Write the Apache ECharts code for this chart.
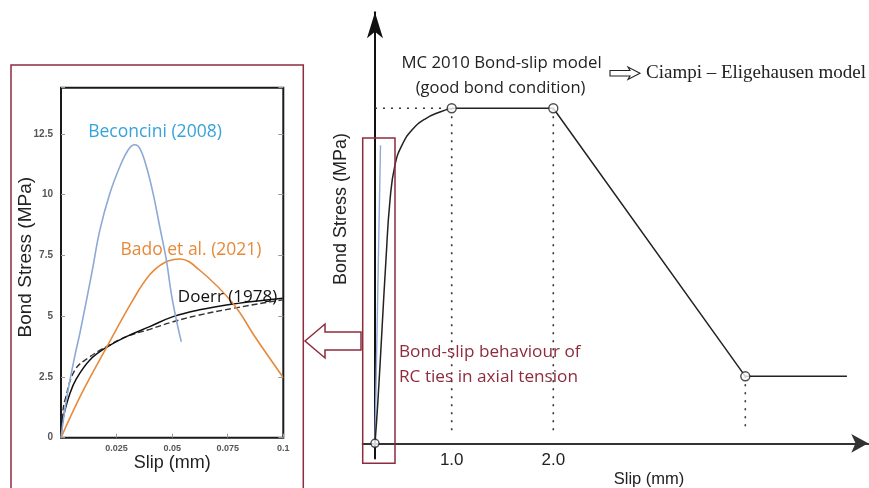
<!DOCTYPE html>
<html>
<head>
<meta charset="utf-8">
<script src="https://cdn.jsdelivr.net/npm/echarts@6/dist/echarts.min.js"></script>
<style>html,body{margin:0;padding:0;background:#fff;}#c{width:869px;height:488px;}</style>
</head>
<body>
<div id="c"></div>
<script>
// ---- Inset chart (bond-slip of RC ties), slip in mm, stress in MPa ----
const insetYTicks = [0, 2.5, 5, 7.5, 10, 12.5];
const insetXTicks = [0.025, 0.05, 0.075, 0.1];
const beconcini = [[0,0],[0.0025,1.6],[0.0063,3.4],[0.0085,4.3],[0.0138,6.75],[0.0175,8.55],[0.022,10.06],[0.0265,11.16],[0.0302,11.84],[0.0332,12.05],[0.0354,11.91],[0.0384,11.16],[0.0414,10.06],[0.0444,8.69],[0.0474,7.31],[0.0496,5.94],[0.0519,4.84],[0.0541,3.95]];
const bado = [[0,0],[0.0093,1.82],[0.0205,3.72],[0.0324,5.67],[0.0399,6.70],[0.0465,7.2],[0.0534,7.35],[0.0623,6.90],[0.0773,5.53],[0.0877,4.09],[0.0997,2.51]];
const doerrSolid = [[0,0],[0.00045,0.45],[0.00105,0.86],[0.004,1.82],[0.007,2.44],[0.013,3.2],[0.0205,3.72],[0.0294,4.16],[0.0399,4.57],[0.0504,4.98],[0.0623,5.26],[0.0773,5.5],[0.0922,5.67],[0.0997,5.74]];
const doerrDashed = [[0,0],[0.00075,1.0],[0.0018,1.55],[0.0063,2.79],[0.013,3.33],[0.0205,3.75],[0.0294,4.16],[0.0399,4.46],[0.0504,4.77],[0.0623,5.05],[0.0773,5.32],[0.0922,5.56],[0.0997,5.67]];

// ---- MC 2010 schematic (values in model units, plateau = 10) ----
const mcTickLabels = [1, 2];
const mcAscending = [[0,0],[0.039,1.29],[0.091,3.38],[0.143,5.47],[0.196,7.26],[0.261,8.31],[0.352,8.90],[0.482,9.35],[0.652,9.68],[0.848,9.89],[1,10]];
const mcModel = [[1,10],[2,10],[3.89,2],[4.89,2]];
const mcNodes = [[1,10],[2,10],[3.89,2]];
const mcOrigin = [[0,0]];
const mcGuideH = [[0,10],[1,10]];
const mcGuideV1 = [[1,10],[1,0.34]];
const mcGuideV2 = [[2,10],[2,0.34]];
const mcGuideV3 = [[3.89,2],[3.89,0.34]];
const mcInsetTrace = [[0,0],[0.072,8.9]];

const maroon = '#8E2B3D';
const chart = echarts.init(document.getElementById('c'));
const dotted = {color:'#333', width:1.6, type:[2,6]};
const noSym = {showSymbol:false, symbol:'none', animation:false};
const gridBase = {outerBoundsMode:'none', containLabel:false};

chart.setOption({
  animation:false,
  grid:[
    Object.assign({left:61, right:869-283.3, top:87.7, bottom:488-437.7, show:true, borderColor:'#1a1a1a', borderWidth:2, backgroundColor:'transparent'}, gridBase),
    Object.assign({left:362.7, right:869-451.7, top:12.15, bottom:29.6}, gridBase),
    Object.assign({left:451.7, right:0.74, top:12.15, bottom:29.6}, gridBase)
  ],
  xAxis:[
    {gridIndex:0, type:'value', min:0, max:0.1, interval:0.025,
     axisLine:{show:false}, splitLine:{show:false},
     axisTick:{show:true, inside:true, length:4, lineStyle:{color:'#999'}},
     axisLabel:{margin:6, fontSize:9, color:'#555', fontWeight:'bold', fontFamily:'Liberation Sans',
       formatter:v=> insetXTicks.some(t=>Math.abs(t-v)<1e-9) ? String(+v.toFixed(3)) : ''},
     name:'Slip (mm)', nameLocation:'middle', nameGap:16, nameMoveOverlap:false,
     nameTextStyle:{fontSize:18, color:'#222', fontFamily:'Liberation Sans'}},
    {gridIndex:1, type:'value', min:-0.16, max:1,
     axisLine:{show:true, onZero:true, lineStyle:{color:'#333', width:2}},
     axisTick:{show:false}, axisLabel:{show:false}, splitLine:{show:false}},
    {gridIndex:2, type:'value', min:1, max:5.1, interval:1,
     axisLine:{show:true, onZero:true, symbol:['none','arrow'], symbolSize:[14,17], lineStyle:{color:'#333', width:2}},
     axisTick:{show:false}, splitLine:{show:false},
     axisLabel:{margin:8, fontSize:17, color:'#222', fontFamily:'Liberation Sans',
       formatter:v=> mcTickLabels.includes(v) ? v.toFixed(1) : ''}}
  ],
  yAxis:[
    {gridIndex:0, type:'value', min:0, max:14.4, interval:2.5,
     axisLine:{show:false}, splitLine:{show:false},
     axisTick:{show:true, inside:true, length:4, lineStyle:{color:'#999'}},
     axisLabel:{margin:8, fontSize:10, color:'#555', fontWeight:'bold', fontFamily:'Liberation Sans',
       formatter:v=> insetYTicks.includes(v) ? String(v) : ''},
     name:'Bond Stress (MPa)', nameLocation:'middle', nameGap:26, nameMoveOverlap:false,
     nameTextStyle:{fontSize:19, color:'#222', fontFamily:'Liberation Sans', padding:[0,0,0,11]}},
    {gridIndex:0, type:'value', position:'right', min:0, max:14.4, interval:2.5,
     axisLine:{show:false}, splitLine:{show:false}, axisLabel:{show:false},
     axisTick:{show:true, inside:true, length:5, lineStyle:{color:'#999'}}},
    {gridIndex:1, type:'value', min:-0.45, max:12.87,
     axisLine:{show:true, onZero:true, symbol:['none','arrow'], symbolSize:[12,26], lineStyle:{color:'#111', width:2}},
     axisTick:{show:false}, axisLabel:{show:false}, splitLine:{show:false}},
    {gridIndex:2, type:'value', min:-0.45, max:12.87,
     axisLine:{show:false}, axisTick:{show:false}, axisLabel:{show:false}, splitLine:{show:false}}
  ],
  series:[
    Object.assign({type:'line', xAxisIndex:0, yAxisIndex:0, data:doerrDashed, smooth:0.4,
      lineStyle:{color:'#333', width:1.4, type:[6,3]}}, noSym),
    Object.assign({type:'line', xAxisIndex:0, yAxisIndex:0, data:doerrSolid, smooth:0.4,
      lineStyle:{color:'#111', width:1.5}}, noSym),
    Object.assign({type:'line', xAxisIndex:0, yAxisIndex:0, data:bado, smooth:0.4,
      lineStyle:{color:'#E8893A', width:1.6}}, noSym),
    Object.assign({type:'line', xAxisIndex:0, yAxisIndex:0, data:beconcini, smooth:0.4,
      lineStyle:{color:'#8DA9D6', width:1.6}}, noSym),

    Object.assign({type:'line', xAxisIndex:1, yAxisIndex:2, data:mcGuideH, lineStyle:dotted, clip:false}, noSym),
    Object.assign({type:'line', xAxisIndex:2, yAxisIndex:3, data:mcGuideV1, lineStyle:dotted, clip:false}, noSym),
    Object.assign({type:'line', xAxisIndex:2, yAxisIndex:3, data:mcGuideV2, lineStyle:dotted, clip:false}, noSym),
    Object.assign({type:'line', xAxisIndex:2, yAxisIndex:3, data:mcGuideV3, lineStyle:dotted, clip:false}, noSym),
    Object.assign({type:'line', xAxisIndex:1, yAxisIndex:2, data:mcInsetTrace, lineStyle:{color:'#8DA9D6', width:1.4}, clip:false}, noSym),
    Object.assign({type:'line', xAxisIndex:1, yAxisIndex:2, data:mcAscending, smooth:0.5, lineStyle:{color:'#222', width:1.5}, clip:false}, noSym),
    Object.assign({type:'line', xAxisIndex:2, yAxisIndex:3, data:mcModel, lineStyle:{color:'#222', width:1.5}, clip:false}, noSym),
    {type:'scatter', xAxisIndex:2, yAxisIndex:3, data:mcNodes, symbol:'circle', symbolSize:9, clip:false, z:5,
     itemStyle:{color:'#fff', borderColor:'#222', borderWidth:1.4}},
    {type:'scatter', xAxisIndex:1, yAxisIndex:2, data:mcOrigin, symbol:'circle', symbolSize:8, clip:false, z:5,
     itemStyle:{color:'#fff', borderColor:'#222', borderWidth:1.4}}
  ],
  graphic:[
    {type:'rect', z:20, shape:{x:11, y:65, width:292.3, height:440}, style:{fill:'none', stroke:maroon, lineWidth:1.5}},
    {type:'rect', z:20, shape:{x:362.7, y:138, width:32.3, height:325.3}, style:{fill:'none', stroke:maroon, lineWidth:1.5}},
    {type:'polygon', z:20, shape:{points:[[305,341],[325,324],[325,332],[361,332],[361,350],[325,350],[325,358]]},
     style:{fill:'#fff', stroke:maroon, lineWidth:1.5}},
    {type:'polygon', z:20, shape:{points:[[610,70.5],[630,70.5],[628,67],[640,73.3],[628,79.5],[630,76],[610,76]]},
     style:{fill:'#fff', stroke:'#222', lineWidth:1.1}},
    {type:'text', z:20, style:{text:'Beconcini (2008)', x:155, y:131.7, align:'center', verticalAlign:'middle', fill:'#36A3D9', font:'17.5px "Open Sans"'}},
    {type:'text', z:20, style:{text:'Bado et al. (2021)', x:191, y:250, align:'center', verticalAlign:'middle', fill:'#E8893A', font:'17.5px "Open Sans"'}},
    {type:'text', z:20, style:{text:'Doerr (1978)', x:227.5, y:297.3, align:'center', verticalAlign:'middle', fill:'#111', font:'17px "Open Sans"'}},
    {type:'text', z:20, style:{text:'MC 2010 Bond-slip model', x:501.6, y:63, align:'center', verticalAlign:'middle', fill:'#222', font:'16.8px "Open Sans"'}},
    {type:'text', z:20, style:{text:'(good bond condition)', x:500.5, y:88.3, align:'center', verticalAlign:'middle', fill:'#222', font:'16.5px "Open Sans"'}},
    {type:'text', z:20, style:{text:'Ciampi \u2013 Eligehausen model', x:646, y:73.3, align:'left', verticalAlign:'middle', fill:'#222', font:'19px "Liberation Serif"'}},
    {type:'text', z:20, style:{text:'Bond-slip behaviour of', x:399, y:352, align:'left', verticalAlign:'middle', fill:maroon, font:'17.2px "Open Sans"'}},
    {type:'text', z:20, style:{text:'RC ties in axial tension', x:399, y:377, align:'left', verticalAlign:'middle', fill:maroon, font:'17.2px "Open Sans"'}},
    {type:'text', z:20, rotation:Math.PI/2, x:341, y:209, style:{text:'Bond Stress (MPa)', x:0, y:0, align:'center', verticalAlign:'middle', fill:'#222', font:'18px "Liberation Sans"'}},
    {type:'text', z:20, style:{text:'Slip (mm)', x:649, y:479, align:'center', verticalAlign:'middle', fill:'#222', font:'16.5px "Liberation Sans"'}}
  ]
});
// The onZero x-axis of the schematic keeps its labels at the grid bottom in v6; place them just under the shifted axis line.
chart.setOption({xAxis:[{}, {}, {axisLabel:{margin:-7}}]});
</script>
</body>
</html>
